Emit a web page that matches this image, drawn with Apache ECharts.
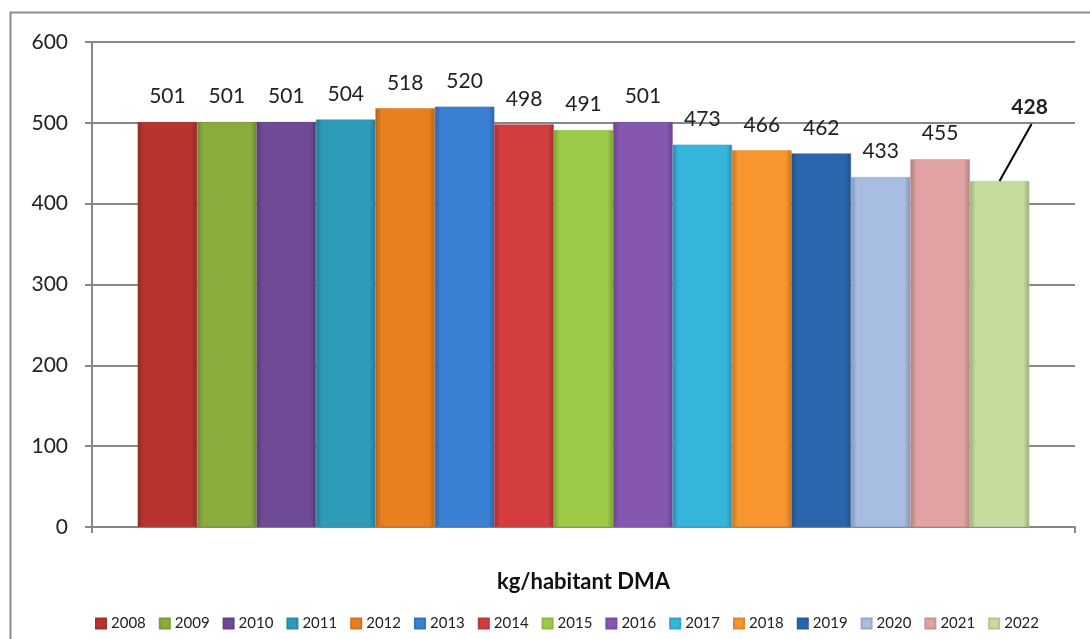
<!DOCTYPE html>
<html><head><meta charset="utf-8">
<script src="https://cdn.jsdelivr.net/npm/echarts@6/dist/echarts.min.js"></script>
<style>html,body{margin:0;padding:0;background:#fff}#c{width:1090px;height:639px}</style>
</head><body><div id="c"></div>
<script>
const category = ['kg/habitant DMA'];
const years = ['2008','2009','2010','2011','2012','2013','2014','2015','2016','2017','2018','2019','2020','2021','2022'];
const values = [501,501,501,504,518,520,498,491,501,473,466,462,433,455,428];
const colors = ['#b8342f','#8aac3c','#6f4a96','#2e9bb8','#e8801f','#3a80d4','#d33d3d','#9dcb48','#8557b0','#36b5dc','#f7962e','#2a66ad','#a7bde2','#e0a2a2','#c6dc9e'];
const yTicks = [0,100,200,300,400,500,600];

function shade(hex, f){
  const n=parseInt(hex.slice(1),16);
  let r=(n>>16)&255,g=(n>>8)&255,b=n&255;
  if(f<0){r*=1+f;g*=1+f;b*=1+f;}else{r+= (255-r)*f;g+=(255-g)*f;b+=(255-b)*f;}
  return 'rgb('+Math.round(r)+','+Math.round(g)+','+Math.round(b)+')';
}
const font = 'Lato, "Liberation Sans", sans-serif';
const last = years.length-1;
const series = years.map((y,i)=>({
  name:y, type:'bar', barGap:'0%', barCategoryGap:'9.3%',
  data:[values[i]],
  itemStyle:{
    color:new echarts.graphic.LinearGradient(0,0,1,0,[
      {offset:0,color:shade(colors[i],-0.22)},
      {offset:0.1,color:colors[i]},
      {offset:0.9,color:colors[i]},
      {offset:1,color:shade(colors[i],-0.22)}
    ]),
    borderColor:shade(colors[i],-0.1), borderWidth:0.5
  },
  label:{show:true, position:'top', distance:15, fontFamily:font, fontSize:21, color:'#222',
    fontWeight: i===last?'bold':'normal'},
  labelLayout: i===last?{dx:30, dy:-48}:undefined
}));

const chart = echarts.init(document.getElementById('c'), null, {renderer:'canvas'});
chart.setOption({
  animation:false,
  color:colors,
  grid:{left:92, right:15, top:42, bottom:112},
  legend:{bottom:3, left:90, itemWidth:10, itemHeight:10, itemGap:13, icon:'rect',
    textStyle:{fontFamily:font, fontSize:15, color:'#222'}, data:years},
  xAxis:{type:'category', data:category, name:category[0], nameLocation:'middle', nameGap:44,
    nameTextStyle:{fontFamily:font, fontSize:22, fontWeight:'bold', color:'#111'},
    axisLabel:{show:false},
    axisLine:{lineStyle:{color:'#878787', width:2}},
    axisTick:{show:true, length:6, lineStyle:{color:'#878787', width:2}}},
  yAxis:{type:'value', min:yTicks[0], max:yTicks[yTicks.length-1], interval:100,
    axisLine:{show:true, lineStyle:{color:'#878787', width:2}},
    axisTick:{show:true, length:7, lineStyle:{color:'#878787', width:2}},
    axisLabel:{fontFamily:font, fontSize:21, color:'#222', margin:24},
    splitLine:{lineStyle:{color:'#878787', width:2}}},
  series:series
});
// leader line for the last label, anchored on the bar layout computed by ECharts
const lay = chart.getModel().getSeriesByIndex(last).getData().getItemLayout(0);
const bx = lay.x + lay.width/2, by = Math.min(lay.y, lay.y+lay.height);
chart.setOption({graphic:[
  {type:'rect', shape:{x:10.5,y:12.5,width:1100,height:640}, style:{fill:'none', stroke:'#8c8c8c', lineWidth:2}, silent:true},
  {type:'line', shape:{x1:bx, y1:by, x2:bx+32, y2:by-57}, style:{stroke:'#000', lineWidth:2}, silent:true, z:100}
]});
</script></body></html>
